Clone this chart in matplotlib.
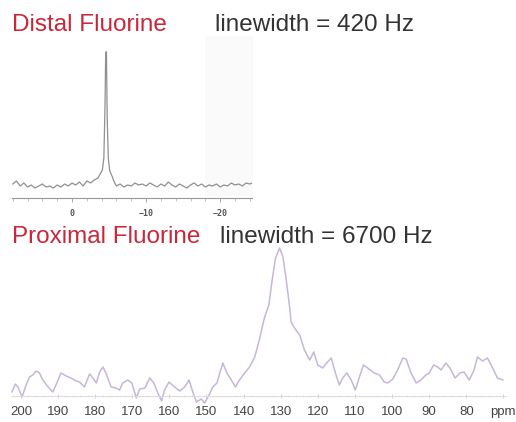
import matplotlib
matplotlib.use("Agg")
import matplotlib.pyplot as plt
from matplotlib.patches import Rectangle
from matplotlib.ticker import FixedLocator, MultipleLocator

# ---------------- data ----------------
# Distal fluorine spectrum (ppm, intensity in arbitrary units)
distal_ppm = [8.0, 7.5, 7.0, 6.5, 6.0, 5.5, 5.0, 4.5, 4.0, 3.5, 3.0, 2.5, 2.0, 1.5,
              1.0, 0.5, 0.0, -0.5, -1.0, -1.5, -2.0, -2.5, -3.0, -3.5, -3.8, -4.1,
              -4.3, -4.45, -4.55, -4.65, -4.75, -4.9, -5.1, -5.4, -5.7, -6.0, -6.5,
              -7.0, -7.5, -8.0, -8.5, -9.0, -9.5, -10.0, -10.5, -11.0, -11.5, -12.0,
              -12.5, -13.0, -13.5, -14.0, -14.5, -15.0, -15.5, -16.0, -16.5, -17.0,
              -17.5, -18.0, -18.5, -19.0, -19.5, -20.0, -20.5, -21.0, -21.5, -22.0,
              -22.5, -23.0, -23.5, -24.0, -24.3]
distal_int = [14, 17, 12, 15, 11, 13, 10, 12, 14, 11, 12, 10, 13, 11,
              14, 12, 15, 13, 16, 12, 17, 15, 18, 20, 24, 28,
              40, 90, 146, 146, 80, 40, 27, 22, 16, 12, 14,
              11, 13, 12, 15, 13, 14, 12, 15, 13, 11, 14,
              12, 16, 13, 11, 14, 12, 10, 13, 15, 12,
              14, 11, 13, 12, 14, 11, 13, 12, 15, 13,
              14, 12, 15, 14, 15]
distal_ticks = [0, -10, -20]
distal_ticklabels = ["0", "\u221210", "\u221220"]

# Proximal fluorine spectrum (ppm, intensity in arbitrary units)
prox_ppm = [202.4, 201.5, 200.8, 199.7, 198.6, 197.7, 196.8, 195.9, 195.0, 194.1,
            192.9, 191.4, 190.2, 189.2, 187.8, 186.5, 185.1, 184.2, 182.9, 181.5,
            180.6, 179.7, 178.8, 177.9, 177.1, 175.7, 174.4, 173.4, 172.6, 171.2,
            170.1, 168.9, 168.0, 166.6, 165.3, 164.2, 163.1, 162.1, 161.3, 160.1,
            158.6, 157.2, 155.9, 154.7, 153.6, 152.7, 151.4, 150.5, 149.3, 148.3,
            147.2, 145.6, 144.5, 143.3, 142.2, 141.1, 139.7, 138.4, 137.0, 135.7,
            134.4, 133.2, 132.3, 131.4, 130.3, 129.4, 128.5, 127.6, 127.2, 126.3,
            124.9, 123.6, 122.2, 121.1, 120.0, 118.7, 117.6, 116.4, 115.1, 114.2,
            113.3, 112.2, 111.0, 109.9, 108.8, 107.7, 106.6, 104.8, 103.4, 102.1,
            101.2, 99.8, 98.5, 97.1, 96.2, 94.9, 93.5, 92.2, 90.9, 90.0,
            88.8, 87.7, 86.8, 85.5, 84.4, 83.0, 81.7, 80.6, 79.2, 77.9,
            77.0, 75.6, 74.3, 72.9, 71.6, 70.2]
prox_int = [4, 12, 9, -1, 11, 19, 21, 25, 23, 16,
            10, 4, 14, 23, 20, 18, 15, 14, 9, 22,
            18, 13, 24, 29, 23, 9, 8, 6, 13, 16,
            13, -2, 7, 8, 18, 13, 3, -5, 6, 14,
            9, 5, 9, 16, 3, -6, -3, -7, 1, 9,
            13, 33, 23, 16, 9, 16, 23, 29, 39, 57,
            78, 91, 116, 138, 148, 139, 116, 89, 74, 68,
            61, 46, 36, 44, 31, 28, 33, 38, 21, 11,
            18, 23, 16, 6, 19, 31, 28, 23, 21, 14,
            13, 17, 26, 38, 37, 23, 13, 16, 21, 23,
            31, 29, 26, 33, 28, 18, 23, 24, 16, 26,
            39, 35, 38, 28, 18, 16]
prox_ticks = [200, 190, 180, 170, 160, 150, 140, 130, 120, 110, 100, 90, 80, 70]
prox_ticklabels = ["200", "190", "180", "170", "160", "150", "140", "130",
                   "120", "110", "100", "90", "80", "ppm"]

titles = ["Distal Fluorine", "Proximal Fluorine"]
linewidths = ["linewidth = 420 Hz", "linewidth = 6700 Hz"]

# ---------------- figure ----------------
W, H = 516, 422
fig = plt.figure(figsize=(W / 100, H / 100), dpi=100)
fig.patch.set_facecolor("white")
plt.rcParams["font.family"] = ["Liberation Sans", "DejaVu Sans"]


def px_axes(x0, x1, ytop, ybot):
    return fig.add_axes([x0 / W, 1 - ybot / H, (x1 - x0) / W, (ybot - ytop) / H])


# faint background patch from the scanned inset
fig.patches.append(Rectangle((205 / W, 1 - 196 / H), 48 / W, 160 / H,
                             transform=fig.transFigure, facecolor="#fafafa",
                             edgecolor="none", zorder=-5))

red = "#c8283a"
dark = "#333333"
fs = 17.5
fig.text(12 / W, 1 - 31 / H, titles[0], color=red, fontsize=fs, va="baseline")
fig.text(215 / W, 1 - 31 / H, linewidths[0], color=dark, fontsize=fs, va="baseline")
fig.text(12 / W, 1 - 243 / H, titles[1], color=red, fontsize=fs, va="baseline")
fig.text(220 / W, 1 - 243 / H, linewidths[1], color=dark, fontsize=fs, va="baseline")

# top (distal) panel
ax1 = px_axes(12, 252, 45, 198)
ax1.patch.set_alpha(0)
ax1.plot(distal_ppm, distal_int, color="#909090", lw=0.9)
ax1.set_xlim(8.1, -24.3)
ax1.set_ylim(0, 153)
for s in ["top", "right", "left"]:
    ax1.spines[s].set_visible(False)
ax1.spines["bottom"].set_color("#999999")
ax1.spines["bottom"].set_linewidth(0.8)
ax1.set_yticks([])
ax1.xaxis.set_major_locator(FixedLocator(distal_ticks))
ax1.set_xticklabels(distal_ticklabels, family="DejaVu Sans Mono", fontweight="bold",
                    fontsize=6, color="#555555")
ax1.xaxis.set_minor_locator(MultipleLocator(2))
ax1.tick_params(axis="x", which="major", length=3, width=0.6, color="#999999", pad=5)
ax1.tick_params(axis="x", which="minor", length=2, width=0.5, color="#aaaaaa")

# bottom (proximal) panel
ax2 = px_axes(12, 506, 240, 396)
ax2.patch.set_alpha(0)
ax2.plot(prox_ppm, prox_int, color="#c7b6d9", lw=1.1, clip_on=False)
ax2.set_xlim(202.4, 69.3)
ax2.set_ylim(0, 156)
for s in ["top", "right", "left"]:
    ax2.spines[s].set_visible(False)
ax2.spines["bottom"].set_color("#dddddd")
ax2.spines["bottom"].set_linewidth(0.8)
ax2.set_yticks([])
ax2.xaxis.set_major_locator(FixedLocator(prox_ticks))
ax2.set_xticklabels(prox_ticklabels, fontsize=9.5, color="#444444")
ax2.xaxis.set_minor_locator(MultipleLocator(2))
ax2.tick_params(axis="x", which="major", length=3, width=0.6, color="#cccccc",
                direction="inout", pad=6)
ax2.tick_params(axis="x", which="minor", length=2, width=0.5, color="#dddddd",
                direction="inout")

fig.savefig("out.png", dpi=100)
